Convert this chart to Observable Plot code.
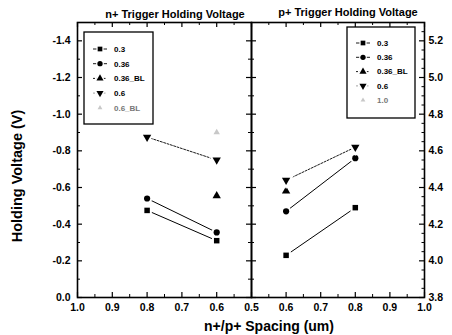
<!DOCTYPE html>
<html><head><meta charset="utf-8">
<script src="https://cdn.jsdelivr.net/npm/d3@7"></script>
<script src="https://cdn.jsdelivr.net/npm/@observablehq/plot@0.6"></script>
<style>
body{margin:0;background:#fff;}
#c{position:relative;width:452px;height:335px;font-family:"Liberation Sans",Arial,sans-serif;font-weight:bold;color:#000;overflow:hidden;}
#c svg{position:absolute;left:0;top:0;overflow:visible;}
.t{position:absolute;white-space:nowrap;transform:translate(-50%,-50%);line-height:1;color:#000;}
</style></head><body><div id="c"></div>
<script>
// ---- data ----
const seriesN = ["0.3","0.36","0.36_BL","0.6","0.6_BL"];
const seriesP = ["0.3","0.36","0.36_BL","0.6","1.0"];
const symbolsN = ["square","circle","triangle","triangle","triangle"];
const xN = [0.8, 0.6];
const n03 = [-0.475, -0.31];
const n036 = [-0.54, -0.355];
const n036BL = [null, -0.555];
const n06 = [-0.875, -0.75];
const n06BL = [null, -0.9];
const xP = [0.6, 0.8];
const p03 = [4.03, 4.29];
const p036 = [4.27, 4.56];
const p036BL = [4.38, null];
const p06 = [4.44, 4.62];
const p10 = [null, null];
const xTicksN = [1.0, 0.9, 0.8, 0.7, 0.6, 0.5];
const yTicksN = [0, -0.2, -0.4, -0.6, -0.8, -1.0, -1.2, -1.4];
const xTicksP = [0.6, 0.7, 0.8, 0.9, 1.0];
const yTicksP = [3.8, 4.0, 4.2, 4.4, 4.6, 4.8, 5.0, 5.2];
const titleN = "n+ Trigger Holding Voltage";
const titleP = "p+ Trigger Holding Voltage";
const xLabel = "n+/p+ Spacing (um)";
const yLabel = "Holding Voltage (V)";

function table(xs, names, vals) {
  const out = [];
  names.forEach((s, i) => vals[i].forEach((v, j) => { if (v != null) out.push({s, x: xs[j], y: v}); }));
  return out;
}
const tN = table(xN, seriesN, [n03, n036, n036BL, n06, n06BL]);
const tP = table(xP, seriesP, [p03, p036, p036BL, p06, p10]);

const W = 452, H = 335, MT = 22, MB = 38, XL = 77, XM = 251, XR = 424;
const fmt = d => d.toFixed(1);
const FONT = "Liberation Sans, Arial, sans-serif";
const style = {fontFamily: FONT, fontSize: "10.5px", fontWeight: "bold", background: "transparent", overflow: "visible", color: "black"};
const ph = H - MT - MB;
const round = v => Math.round(v * 1000) / 1000;

function dataMarks(t, solid, dashed, faint) {
  return [
    Plot.line(t.filter(d => solid.includes(d.s)), {x: "x", y: "y", z: "s", stroke: "black", strokeWidth: 1}),
    Plot.line(t.filter(d => d.s === dashed), {x: "x", y: "y", stroke: "black", strokeWidth: 0.9, strokeDasharray: "2,1.5"}),
    Plot.dot(t.filter(d => d.s !== faint), {x: "x", y: "y", symbol: "s", r: 3.1, fill: "black", stroke: "white", strokeWidth: 4, paintOrder: "stroke", rotate: d => d.s === dashed ? 180 : 0}),
    Plot.dot(t.filter(d => d.s === faint), {x: "x", y: "y", symbol: "triangle", r: 2.4, fill: "#c8c8c8"})
  ];
}

function tickMarks(xMaj, xMin, yMaj, yMin, pw, leftLen, rightLen, yMinR) {
  return [
    Plot.tickY(yMaj, {y: d => d, insetRight: pw - leftLen[0], strokeWidth: 1.2}),
    Plot.tickY(yMin, {y: d => d, insetRight: pw - leftLen[1], strokeWidth: 1}),
    Plot.tickY(yMaj, {y: d => d, insetLeft: pw - rightLen[0], strokeWidth: 1.2}),
    Plot.tickY(yMinR, {y: d => d, insetLeft: pw - rightLen[1], strokeWidth: 1}),
    Plot.tickX(xMaj, {x: d => d, insetBottom: ph - 5, strokeWidth: 1.2}),
    Plot.tickX(xMin, {x: d => d, insetBottom: ph - 3, strokeWidth: 1}),
    Plot.tickX(xMaj, {x: d => d, insetTop: ph - 5, strokeWidth: 1.2}),
    Plot.tickX(xMin, {x: d => d, insetTop: ph - 3, strokeWidth: 1}),
    Plot.frame({stroke: "black", strokeWidth: 1.6})
  ];
}

const c = document.getElementById("c");

// left panel (n+)
const pwL = XM - XL;
const xMinN = d3.range(0.95, 0.5, -0.1).map(round);
const yMinN = d3.range(-0.1, -1.5, -0.2).map(round);
const left = Plot.plot({
  width: W, height: H, marginLeft: XL, marginRight: W - XM, marginTop: MT, marginBottom: MB,
  style,
  x: {domain: [1.0, 0.5]},
  y: {domain: [0, -1.5]},
  symbol: {domain: seriesN, range: symbolsN},
  marks: [
    ...tickMarks(xTicksN, xMinN, yTicksN, yMinN, pwL, [5, 3], [5, 3], yMinN),
    Plot.axisY(yTicksN, {tickSize: 0, tickPadding: 7, tickFormat: fmt, label: null, fill: "black"}),
    Plot.axisX(xTicksN, {tickSize: 0, tickPadding: 6, tickFormat: fmt, label: null, fill: "black"}),
    ...dataMarks(tN, ["0.3", "0.36"], "0.6", "0.6_BL")
  ]
});
c.appendChild(left);

// right panel (p+)
const pwR = XR - XM;
const xMinP = d3.range(0.55, 1.0, 0.1).map(round);
const yMinP = d3.range(3.9, 5.3, 0.2).map(round);
const yMinP2 = d3.range(3.85, 5.3, 0.05).map(round).filter(v => Math.abs((v * 10) % 2) > 0.01);
const right = Plot.plot({
  width: W, height: H, marginLeft: XM, marginRight: W - XR, marginTop: MT, marginBottom: MB,
  style,
  x: {domain: [0.5, 1.0]},
  y: {domain: [3.8, 5.3]},
  symbol: {domain: seriesP, range: symbolsN},
  marks: [
    ...tickMarks(xTicksP, xMinP, yTicksP, yMinP, pwR, [5, 3], [5, 2.5], yMinP2),
    Plot.axisY(yTicksP, {anchor: "right", tickSize: 0, tickPadding: 4, tickFormat: fmt, label: null, fill: "black"}),
    Plot.axisX(xTicksP, {tickSize: 0, tickPadding: 6, tickFormat: fmt, label: null, fill: "black"}),
    ...dataMarks(tP, ["0.3", "0.36"], "0.6", "1.0")
  ]
});
c.appendChild(right);

// legends
const ov = d3.select(c).append("svg").attr("width", W).attr("height", H);
function legend(box, names, sx, tx, y0, dy, faint) {
  ov.append("rect").attr("x", box[0]).attr("y", box[1]).attr("width", box[2]).attr("height", box[3])
    .attr("fill", "white").attr("stroke", "black").attr("stroke-width", 1.3);
  names.forEach((s, i) => {
    const y = y0 + i * dy;
    const isFaint = s === faint;
    const isDash = i === 3;
    const g = ov.append("g").attr("transform", `translate(${sx},${y})`);
    if (!isFaint) {
      g.append("line").attr("x1", -7).attr("x2", 7).attr("stroke", isDash ? "#999" : "black")
        .attr("stroke-width", 0.9).attr("stroke-dasharray", isDash || i === 2 ? "2,1.5" : null);
    }
    const type = [d3.symbolSquare, d3.symbolCircle, d3.symbolTriangle, d3.symbolTriangle, d3.symbolTriangle][i];
    g.append("path").attr("d", d3.symbol(type, isFaint ? 10 : 22)())
      .attr("fill", isFaint ? "#c8c8c8" : "black").attr("stroke", isFaint ? "none" : "white").attr("stroke-width", 2.5)
      .attr("paint-order", "stroke").attr("transform", isDash ? "rotate(180)" : null);
    ov.append("text").attr("x", tx).attr("y", y).attr("dy", "0.35em").text(s)
      .attr("font-family", FONT).attr("font-weight", "bold").attr("font-size", 8)
      .attr("fill", isFaint ? "#777" : "black");
  });
}
legend([84, 32, 69, 92], seriesN, 100, 114, 49, 14.7, "0.6_BL");
legend([347, 27, 68, 91], seriesP, 363, 377, 43, 14.3, "1.0");

// titles / labels
function label(txt, x, y, size, rot) {
  const d = document.createElement("div");
  d.className = "t";
  d.textContent = txt;
  d.style.left = x + "px"; d.style.top = y + "px"; d.style.fontSize = size + "px";
  if (rot) d.style.transform = "translate(-50%,-50%) rotate(-90deg)";
  c.appendChild(d);
}
label(titleN, 175, 14, 11);
label(titleP, 348, 12, 11);
label(xLabel, 269, 326, 14);
label(yLabel, 17, 176, 14.5, true);
</script></body></html>
